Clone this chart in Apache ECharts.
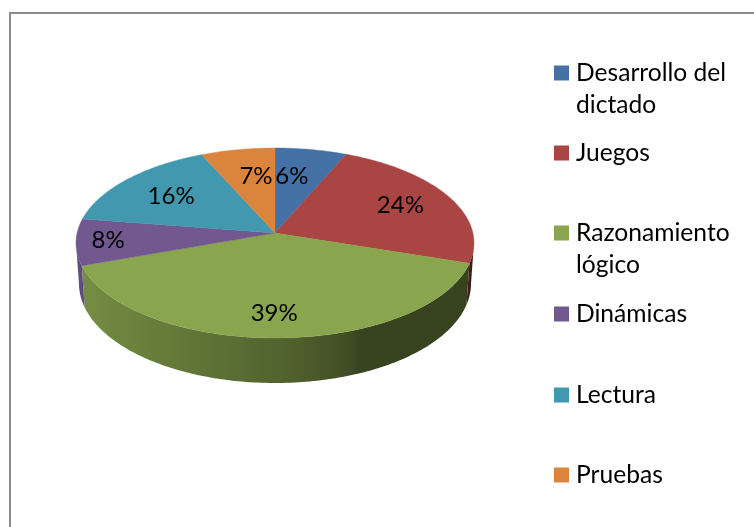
<!DOCTYPE html>
<html><head><meta charset="utf-8">
<style>html,body{margin:0;padding:0;background:#fff}#c{width:754px;height:527px}</style>
<script src="https://cdn.jsdelivr.net/npm/echarts@6/dist/echarts.min.js"></script>
</head><body><div id="c"></div>
<script>
const categories = ['Desarrollo del dictado','Juegos','Razonamiento lógico','Dinámicas','Lectura','Pruebas'];
const values = [6.45, 23.6, 39.49, 7.9, 15.9, 6.66];
const colors = ['#4471A6','#A94543','#89A54E','#71588F','#4198AF','#DB843D'];
const legendLines = {'Desarrollo del dictado':['Desarrollo del','dictado'],'Razonamiento lógico':['Razonamiento','lógico']};

const total = values.reduce((a,b)=>a+b,0);
const FONT = 'Lato';
const cx=275, cy=233, B=197.9, A=93.95, K=0.10526;
const DEPTH=40, DEPTH_EXTRA=5, LOW_SCALE=.985;
const wallFrom=96*Math.PI/180, wallTo=264*Math.PI/180;
const labelOffsets=[[-3.6,.655],[-0.5,.72],[1,.78],[0,.84],[-1,.68],[3,.656]];

function proj(t,r){ // t clockwise from top, r relative radius
  const X=r*Math.sin(t), Y=-r*Math.cos(t), w=1-K*Y;
  return [cx+B*X/w, cy+A*Y/w, Y];
}
function shade(hex,f){
  const n=parseInt(hex.slice(1),16);
  const c=[n>>16,(n>>8)&255,n&255].map(v=>Math.round(v*f));
  return 'rgb('+c.join(',')+')';
}
function arc(a,b){
  const n=Math.max(2,Math.ceil((b-a)/(Math.PI/180))),pts=[];
  for(let i=0;i<=n;i++) pts.push(proj(a+(b-a)*i/n,1));
  return pts;
}
function render(i){
  return function(params,api){
    const v=api.value(0);
    const start=values.slice(0,i).reduce((a,b)=>a+b,0)/total*2*Math.PI;
    const end=start+v/total*2*Math.PI;
    const color=colors[i], kids=[];
    const wa=Math.max(start,wallFrom), wb=Math.min(end,wallTo);
    if(wb>wa){
      const top=arc(wa,wb);
      const low=top.slice().reverse().map(p=>[cx+(p[0]-cx)*LOW_SCALE,p[1]+DEPTH+DEPTH_EXTRA*Math.max(0,p[2])]);
      kids.push({type:'polygon',z2:1,shape:{points:top.concat(low).map(p=>[p[0],p[1]])},
        style:{fill:{type:'linear',global:true,x:76,y:0,x2:474,y2:0,colorStops:[
          {offset:0,color:shade(color,.86)},{offset:.2,color:shade(color,.76)},
          {offset:.4,color:shade(color,.66)},{offset:.55,color:shade(color,.58)},
          {offset:.68,color:shade(color,.47)},{offset:.72,color:shade(color,.40)},{offset:1,color:shade(color,.40)}]}}});
    }
    const pts=[[cx,cy]].concat(arc(start,end).map(p=>[p[0],p[1]]));
    kids.push({type:'polygon',z2:2,shape:{points:pts},style:{fill:color,stroke:color,lineWidth:.4}});
    const lo=labelOffsets[i];
    const lp=proj((start+end)/2+lo[0]*Math.PI/180,lo[1]);
    kids.push({type:'text',z2:3,style:{text:Math.round(v/total*100)+'%',x:lp[0],y:lp[1],align:'center',verticalAlign:'middle',
      fontFamily:FONT,fontSize:24,fill:'#000'}});
    return {type:'group',children:kids};
  };
}
const LH=32.5;
const centers=[73,153,233,314,395,475];
const chart=echarts.init(document.getElementById('c'),null,{renderer:'canvas'});
chart.setOption({
  animation:false,
  backgroundColor:'#fff',
  graphic:[{type:'rect',shape:{x:10,y:13,width:800,height:600},style:{fill:'none',stroke:'#8c8c8c',lineWidth:2},silent:true}],
  legend:categories.map((n,i)=>({
    data:[n],show:true,left:554,padding:0,selectedMode:false,orient:'vertical',
    top:legendLines[n]?centers[i]-LH*1.5:centers[i]-LH/2,
    itemWidth:15,itemHeight:15,itemGap:0,icon:'rect',
    formatter:nm=>legendLines[nm]?'\n'+legendLines[nm].join('\n'):nm,
    textStyle:{fontFamily:FONT,fontSize:24.6,color:'#000',lineHeight:LH,padding:[0,0,0,2]}
  })),
  series:categories.map((n,i)=>({
    type:'custom',name:n,coordinateSystem:'none',silent:true,
    itemStyle:{color:colors[i]},data:[[values[i]]],renderItem:render(i)
  }))
});
</script></body></html>
